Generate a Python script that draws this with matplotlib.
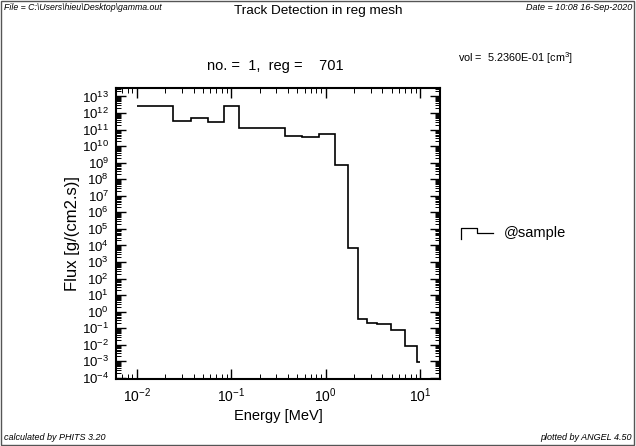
import matplotlib
matplotlib.use('Agg')
import matplotlib.pyplot as plt
from matplotlib.lines import Line2D
from matplotlib.patches import Rectangle
from matplotlib.ticker import LogLocator, FixedLocator, NullFormatter
import numpy as np

# Energy bin edges [MeV] and flux per bin
energy_edges = [0.01, 0.0244, 0.0376, 0.0573, 0.0845, 0.122, 0.374, 0.557, 0.843,
                1.245, 1.74, 2.22, 2.72, 3.47, 4.91, 6.95, 9.40, 10.0]
flux = [2.8e12, 3.5e11, 4.8e11, 3.0e11, 2.8e12, 1.3e11, 4.0e10, 3.6e10, 5.4e10,
        7.2e8, 7.1e3, 0.35, 0.20, 0.17, 0.078, 0.0083, 0.00096]
series_name = '@sample'

plt.rcParams['font.family'] = ['Liberation Sans', 'DejaVu Sans']
plt.rcParams['mathtext.fontset'] = 'custom'
plt.rcParams['mathtext.rm'] = 'Liberation Sans'
plt.rcParams['mathtext.it'] = 'Liberation Sans:italic'
plt.rcParams['mathtext.bf'] = 'Liberation Sans:bold'

W, H = 636, 446
fig = plt.figure(figsize=(W / 100, H / 100), dpi=100)


def fx(x):
    return x / W


def fy(y):
    return 1 - y / H


ax = fig.add_axes([fx(116), fy(379), 324 / W, 291 / H])
ax.stairs(flux, energy_edges, baseline=None, color='black', lw=1.2)
ax.set_xscale('log')
ax.set_yscale('log')
ax.set_xlim(10 ** -2.219, 10 ** 1.212)
ax.set_ylim(10 ** -4.07, 10 ** 13.51)
ax.yaxis.set_major_locator(FixedLocator([10.0 ** k for k in range(-4, 14)]))
ax.yaxis.set_minor_locator(LogLocator(base=10, subs=np.arange(2, 10), numticks=200))
ax.xaxis.set_minor_locator(LogLocator(base=10, subs=np.arange(2, 10), numticks=200))
ax.xaxis.set_minor_formatter(NullFormatter())
ax.yaxis.set_minor_formatter(NullFormatter())
ax.tick_params(which='both', direction='in', top=True, right=True, color='black')
ax.tick_params(which='major', length=7, width=1.0, pad=5)
ax.tick_params(axis='x', which='major', labelsize=10)
ax.tick_params(axis='y', which='major', labelsize=9.5)
ax.tick_params(which='minor', length=3.5, width=0.7)
for s in ax.spines.values():
    s.set_linewidth(1.5)

# Axis labels
fig.text(fx(73), fy(234), 'Flux [g/(cm2.s)]', rotation=90, ha='center', va='center', fontsize=12)
fig.text(fx(278), fy(416), 'Energy [MeV]', ha='center', va='center', fontsize=10.5)

# Header texts
fig.text(fx(4), fy(7), r'File = C:\Users\hieu\Desktop\gamma.out', fontsize=6.3,
         style='italic', ha='left', va='center')
fig.text(fx(318), fy(11), 'Track Detection in reg mesh', fontsize=9.7, ha='center', va='center')
fig.text(fx(632), fy(7), 'Date = 10:08 16-Sep-2020', fontsize=6.5, style='italic',
         ha='right', va='center')
fig.text(fx(275), fy(66), 'no. =  1,  reg =    701', fontsize=10.5, ha='center', va='center')
fig.text(fx(458), fy(58), r'vol =  5.2360E-01 [cm$^\mathdefault{3}$]', fontsize=7.8,
         ha='left', va='center')

# Footer texts
fig.text(fx(4), fy(438), 'calculated by PHITS 3.20', fontsize=6.5, style='italic',
         ha='left', va='center')
fig.text(fx(632), fy(438), 'plotted by ANGEL 4.50', fontsize=6.5, style='italic',
         ha='right', va='center')

# Legend
fig.add_artist(Line2D([fx(461), fx(461), fx(477), fx(477), fx(493)],
                      [fy(239), fy(228), fy(228), fy(233), fy(233)],
                      color='black', lw=0.9, transform=fig.transFigure))
fig.text(fx(504), fy(233), series_name, fontsize=10.5, ha='left', va='center')

# Page border
fig.add_artist(Rectangle((fx(1), fy(445)), 633 / W, 444 / H, transform=fig.transFigure,
                         fill=False, ec='#555555', lw=1.0))

fig.savefig('out.png', dpi=100)
